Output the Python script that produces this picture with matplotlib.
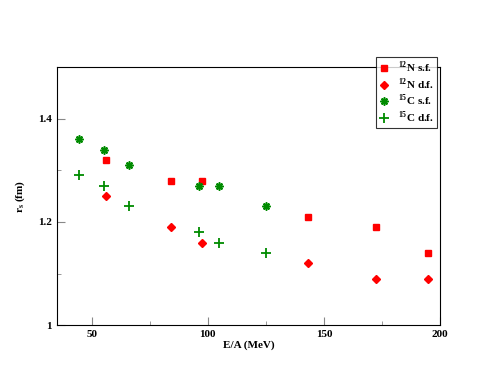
import numpy as np
import matplotlib
matplotlib.use('Agg')
import matplotlib.pyplot as plt

# Data
n12_sf_x = [56, 84, 97.5, 143, 172.5, 195]
n12_sf_y = [1.32, 1.28, 1.28, 1.21, 1.19, 1.14]
n12_df_x = [56, 84, 97.5, 143, 172.5, 195]
n12_df_y = [1.25, 1.19, 1.16, 1.12, 1.09, 1.09]
c15_sf_x = [44.5, 55.3, 66, 96, 105, 125]
c15_sf_y = [1.36, 1.34, 1.31, 1.27, 1.27, 1.23]
c15_df_x = [44.5, 55.3, 66, 96, 105, 125]
c15_df_y = [1.29, 1.27, 1.23, 1.18, 1.16, 1.14]

plt.rcParams['font.family'] = ['Liberation Serif', 'DejaVu Serif']
plt.rcParams['font.weight'] = 'bold'
plt.rcParams['mathtext.fontset'] = 'custom'
plt.rcParams['mathtext.rm'] = 'Liberation Serif:bold'

fig = plt.figure(figsize=(4.95, 3.83), dpi=100)
ax = fig.add_axes([0.115, 0.151, 0.774, 0.674])

red = '#ff0000'
green = '#008b00'
ax.plot(n12_sf_x, n12_sf_y, ls='none', marker='s', ms=5, color=red,
        label=r'$^{12}$N s.f.')
ax.plot(n12_df_x, n12_df_y, ls='none', marker='D', ms=4.2, color=red,
        label=r'$^{12}$N d.f.')
ax.plot(c15_sf_x, c15_sf_y, ls='none', marker=(8, 2, 0), ms=5.8, mew=1.2,
        color=green, label=r'$^{15}$C s.f.')
ax.plot(c15_df_x, c15_df_y, ls='none', marker='+', ms=6.5, mew=1.3,
        color=green, label=r'$^{15}$C d.f.')

ax.set_xlim(35, 200)
ax.set_ylim(1.0, 1.5)
ax.set_xticks([50, 100, 150, 200])
ax.set_xticks([75, 125, 175], minor=True)
ax.set_yticks([1.0, 1.2, 1.4])
ax.set_yticklabels(['1', '1.2', '1.4'])
ax.set_yticks([1.1, 1.3], minor=True)
ax.tick_params(which='both', direction='in', labelsize=8, color='#888888')
ax.tick_params(which='major', length=6)
ax.tick_params(which='minor', length=3)
for lab in ax.get_xticklabels() + ax.get_yticklabels():
    lab.set_fontweight('bold')

ax.set_xlabel('E/A (MeV)', fontsize=8, fontweight='bold', labelpad=1)
ax.set_ylabel(r'r$_{\rm s}$ (fm)', fontsize=8, fontweight='bold', labelpad=8)

leg = ax.legend(loc='upper right', bbox_to_anchor=(0.883, 0.851),
                bbox_transform=fig.transFigure, borderaxespad=0,
                fontsize=8, frameon=True,
                fancybox=False, edgecolor='black', handletextpad=0.8,
                borderpad=0.25, labelspacing=0.12, handlelength=1.0)
leg.get_frame().set_linewidth(0.8)

plt.savefig('out.png', dpi=100)
plt.close()
